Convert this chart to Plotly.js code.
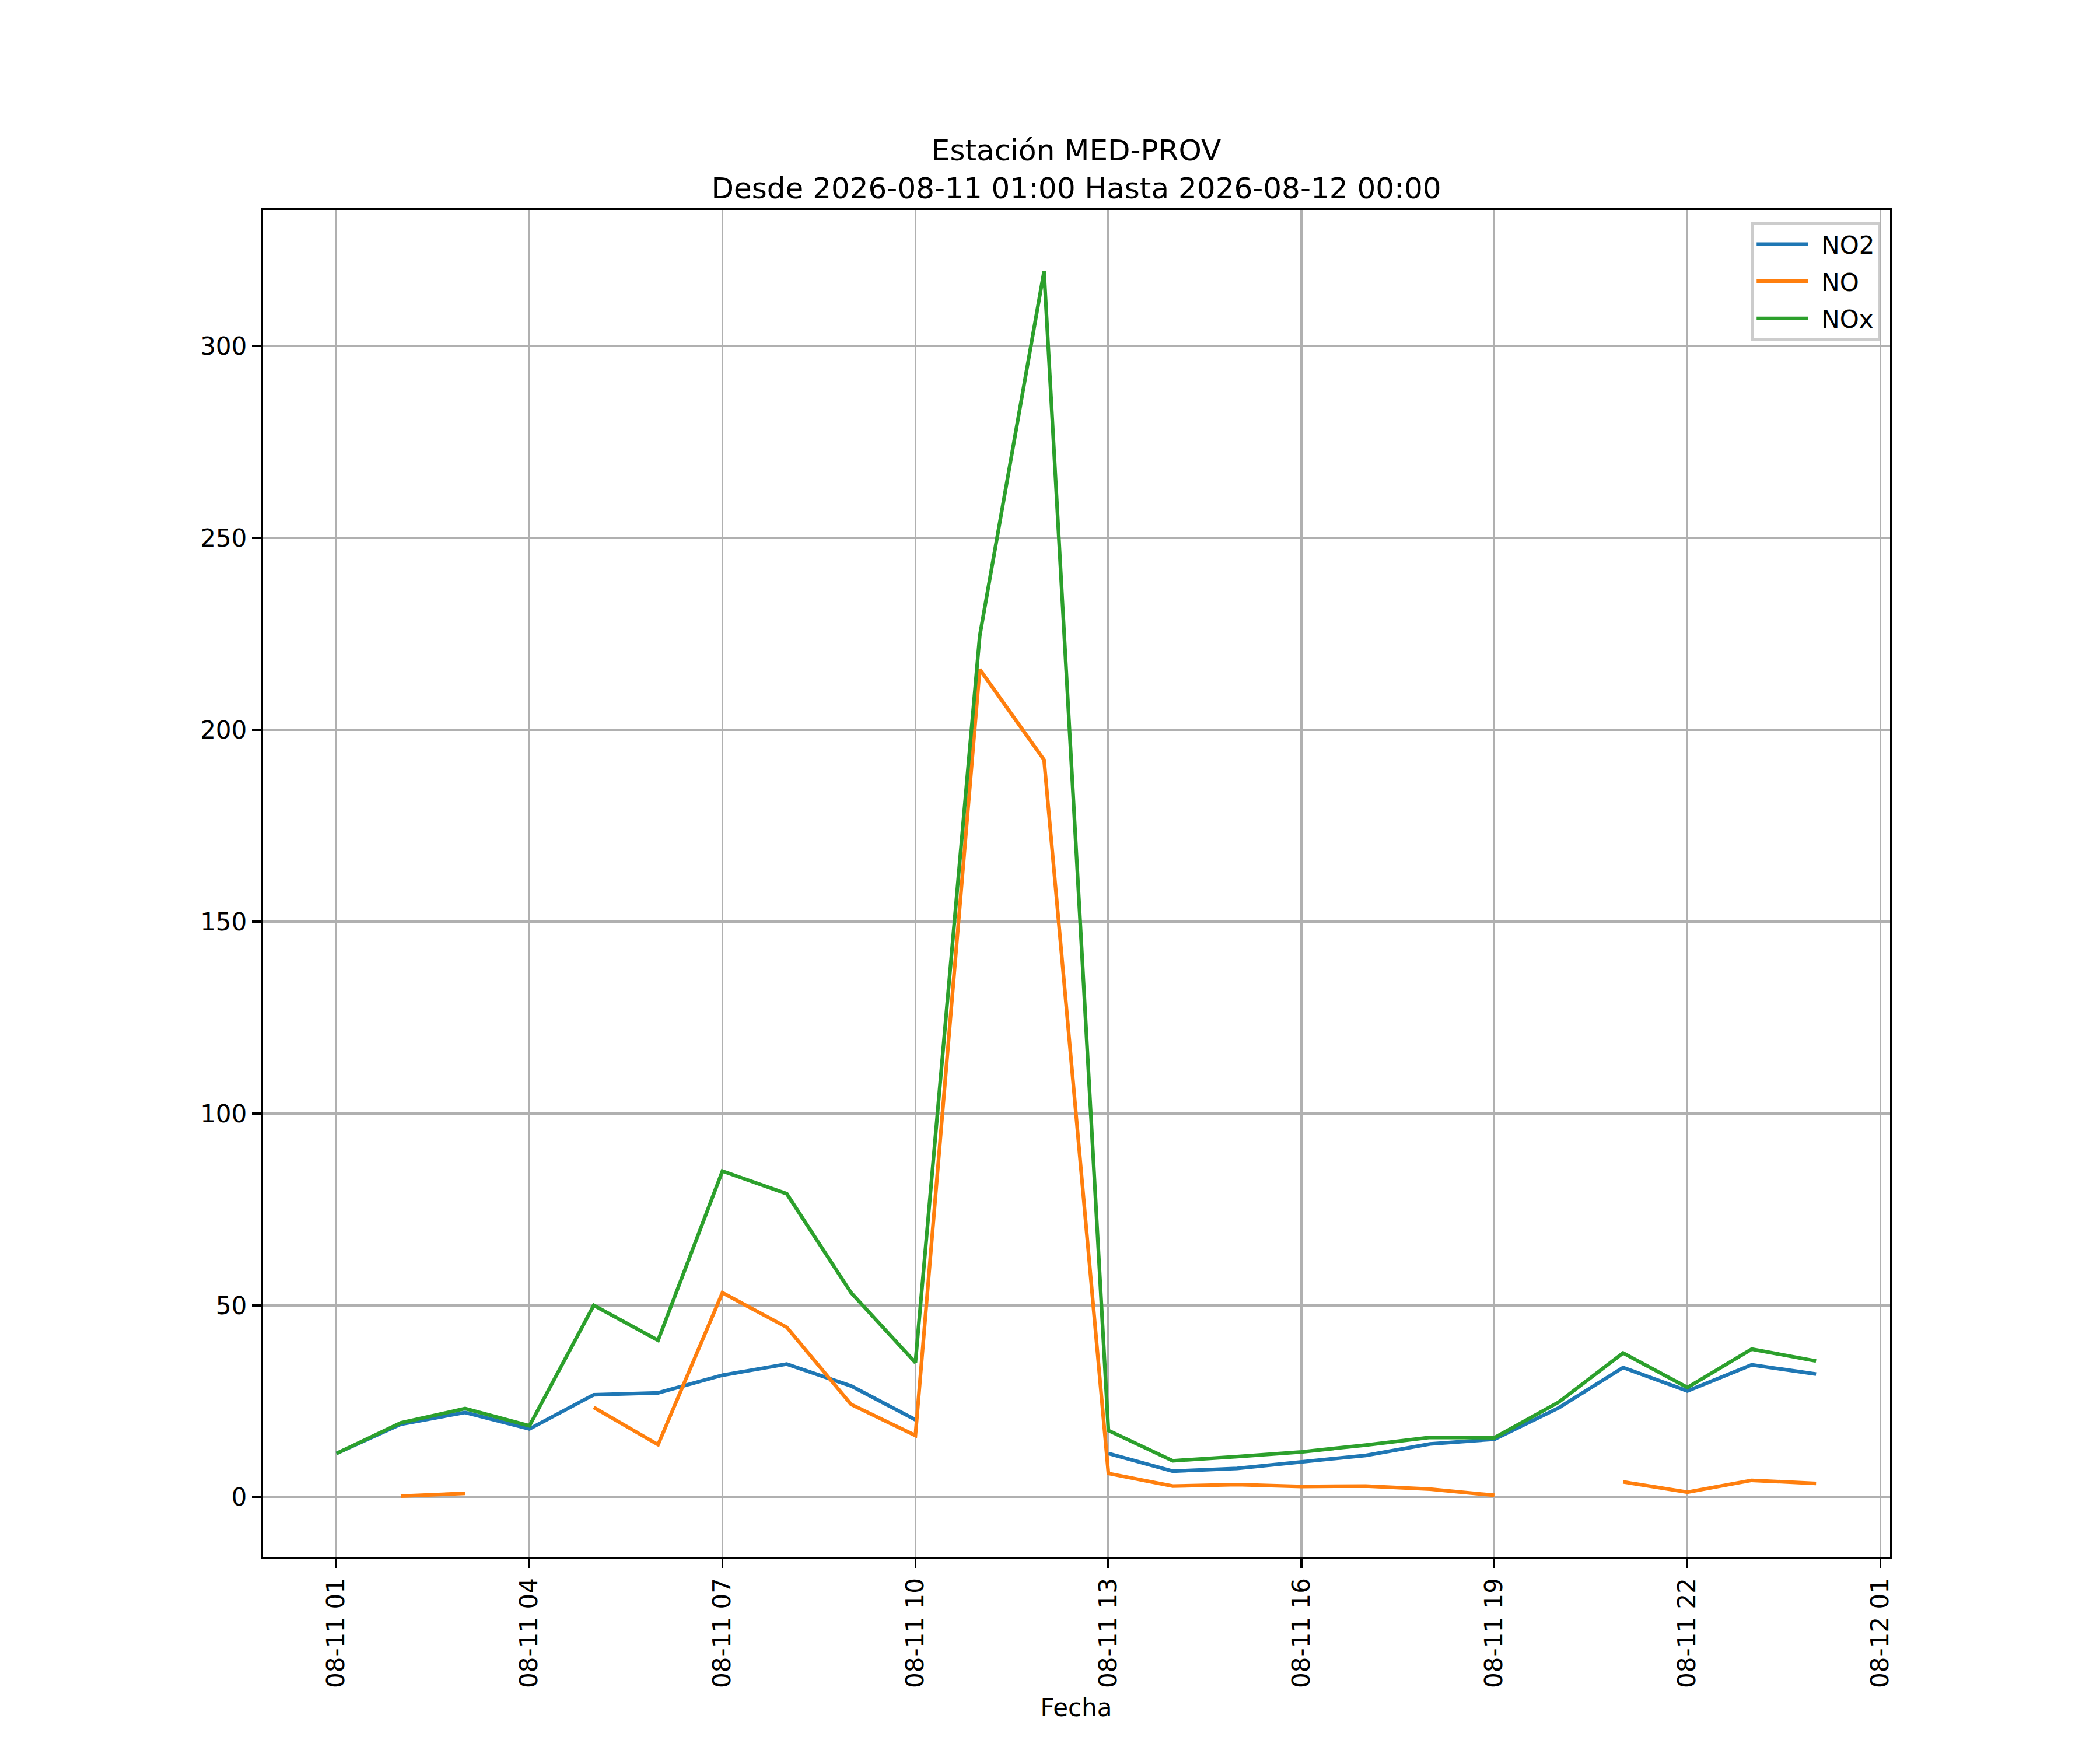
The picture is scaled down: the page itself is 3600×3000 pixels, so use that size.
<!DOCTYPE html>
<html>
<head>
<meta charset="utf-8">
<script src="https://cdn.plot.ly/plotly-3.0.1.min.js"></script>
<style>
  html, body { margin: 0; padding: 0; background: #fff; }
  #plot1 { width: 3600px; height: 3000px; }
</style>
</head>
<body>
<div id="plot1"></div>
<script>
  var fechas = ['2026-08-11 01:00', '2026-08-11 02:00', '2026-08-11 03:00', '2026-08-11 04:00',
    '2026-08-11 05:00', '2026-08-11 06:00', '2026-08-11 07:00', '2026-08-11 08:00',
    '2026-08-11 09:00', '2026-08-11 10:00', '2026-08-11 11:00', '2026-08-11 12:00',
    '2026-08-11 13:00', '2026-08-11 14:00', '2026-08-11 15:00', '2026-08-11 16:00',
    '2026-08-11 17:00', '2026-08-11 18:00', '2026-08-11 19:00', '2026-08-11 20:00',
    '2026-08-11 21:00', '2026-08-11 22:00', '2026-08-11 23:00', '2026-08-12 00:00'];

  var no2 = [11.4, 19.0, 22.1, 17.8, 26.7, 27.2, 31.8, 34.7, 29.0, 20.2, null, null,
    11.4, 6.8, 7.5, 9.1, 10.9, 13.9, 15.1, 23.3, 33.8, 27.7, 34.5, 32.1];

  var no = [null, 0.3, 1.0, null, 23.4, 13.7, 53.3, 44.3, 24.2, 16.1, 215.8, 192.2,
    6.2, 2.9, 3.3, 2.8, 2.9, 2.1, 0.5, null, 4.0, 1.3, 4.4, 3.6];

  var nox = [11.4, 19.4, 23.1, 18.6, 50.0, 40.9, 85.0, 79.1, 53.3, 35.1, 224.5, 319.5,
    17.4, 9.5, 10.6, 11.8, 13.6, 15.6, 15.5, 24.8, 37.6, 28.6, 38.6, 35.5];

  var tickFechas = ['2026-08-11 01:00', '2026-08-11 04:00', '2026-08-11 07:00', '2026-08-11 10:00',
    '2026-08-11 13:00', '2026-08-11 16:00', '2026-08-11 19:00', '2026-08-11 22:00', '2026-08-12 01:00'];
  var tickTextos = ['08-11 01', '08-11 04', '08-11 07', '08-11 10', '08-11 13',
    '08-11 16', '08-11 19', '08-11 22', '08-12 01'];

  var lw = 6.25;

  var data = [
    {x: fechas, y: no2, name: 'NO2', legendgroup: 'a', type: 'scatter', mode: 'lines', line: {color: '#1f77b4', width: lw}},
    {x: fechas, y: no, name: 'NO', legendgroup: 'b', type: 'scatter', mode: 'lines', line: {color: '#ff7f0e', width: lw}},
    {x: fechas, y: nox, name: 'NOx', legendgroup: 'c', type: 'scatter', mode: 'lines', line: {color: '#2ca02c', width: lw}}
  ];

  var layout = {
    width: 3600,
    height: 3000,
    margin: {l: 450, r: 360, t: 360, b: 330},
    paper_bgcolor: '#ffffff',
    plot_bgcolor: '#ffffff',
    font: {family: 'DejaVu Sans', size: 42, color: '#000000'},
    showlegend: true,
    title: {
      text: 'Estación MED-PROV<br>Desde 2026-08-11 01:00 Hasta 2026-08-12 00:00',
      font: {family: 'DejaVu Sans', size: 50, color: '#000000'},
      x: 0.5, xref: 'paper', xanchor: 'center',
      y: 1, yref: 'paper', yanchor: 'bottom',
      pad: {b: 85}
    },
    xaxis: {
      type: 'date',
      range: ['2026-08-10 23:51', '2026-08-12 01:09'],
      tickmode: 'array',
      tickvals: tickFechas,
      ticktext: tickTextos,
      tickangle: -90,
      ticks: 'outside',
      ticklen: 15,
      tickwidth: 3.3,
      tickcolor: '#000000',
      showgrid: true,
      gridcolor: '#b0b0b0',
      gridwidth: 3.3,
      zeroline: false,
      showline: true,
      linecolor: '#000000',
      linewidth: 3.3,
      mirror: true,
      title: {text: 'Fecha', font: {size: 42}, standoff: 20}
    },
    yaxis: {
      range: [-15.7, 335.5],
      tickmode: 'array',
      tickvals: [0, 50, 100, 150, 200, 250, 300],
      ticks: 'outside',
      ticklen: 15,
      tickwidth: 3.3,
      tickcolor: '#000000',
      showgrid: true,
      gridcolor: '#b0b0b0',
      gridwidth: 3.3,
      zeroline: false,
      showline: true,
      linecolor: '#000000',
      linewidth: 3.3,
      mirror: true
    },
    legend: {
      x: 0.994, xanchor: 'right',
      y: 0.991, yanchor: 'top',
      bgcolor: 'rgba(255,255,255,0.8)',
      bordercolor: '#cccccc',
      borderwidth: 4,
      font: {size: 42},
      itemwidth: 106,
      tracegroupgap: 6
    }
  };

  Plotly.newPlot('plot1', data, layout, {staticPlot: true}).then(function () {
    // longer legend line samples, like matplotlib's
    document.querySelectorAll('.legendlines path').forEach(function (p) {
      p.setAttribute('d', 'M5,0h88');
    });
  });
</script>
</body>
</html>
